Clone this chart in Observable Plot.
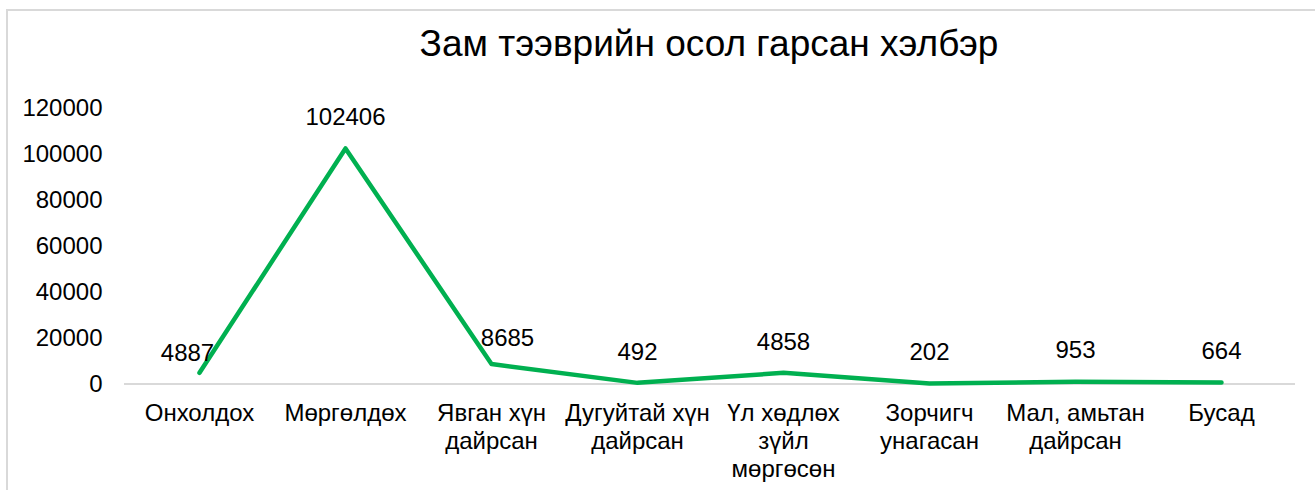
<!DOCTYPE html>
<html>
<head>
<meta charset="utf-8">
<script src="https://cdn.jsdelivr.net/npm/d3@7"></script>
<script src="https://cdn.jsdelivr.net/npm/@observablehq/plot@0.6"></script>
<style>
  html, body { margin: 0; padding: 0; background: #fff; }
  #wrap { position: relative; width: 1315px; height: 490px; overflow: hidden; font-family: "Liberation Sans", Arial, sans-serif; }
  #bt { position: absolute; left: 6px; top: 9px; width: 1309px; height: 1.5px; background: #d9d9d9; }
  #bl { position: absolute; left: 6px; top: 9px; width: 2px; height: 481px; background: #d9d9d9; }
  #title { position: absolute; left: 0; top: 0; width: 1418px; text-align: center; font-size: 37px; line-height: 37px; padding-top: 25px; color: #000; }
  #chart { position: absolute; left: 0; top: 80px; }
</style>
</head>
<body>
<div id="wrap">
  <div id="bt"></div>
  <div id="bl"></div>
  <div id="title">Зам тээврийн осол гарсан хэлбэр</div>
  <div id="chart"></div>
</div>
<script>
const categories = ["Онхолдох", "Мөргөлдөх", "Явган хүн\nдайрсан", "Дугуйтай хүн\nдайрсан", "Үл хөдлөх\nзүйл\nмөргөсөн", "Зорчигч\nунагасан", "Мал, амьтан\nдайрсан", "Бусад"];
const values = [4887, 102406, 8685, 492, 4858, 202, 953, 664];
const yTicks = [0, 20000, 40000, 60000, 80000, 100000, 120000];

const data = categories.map((c, i) => ({category: c, value: values[i]}));
const special = {0: {dx: -12, dy: -19}, 2: {dx: 16, dy: -26}};

const marks = [
  Plot.ruleY([0], {stroke: "#d9d9d9", strokeWidth: 2}),
  Plot.lineY(data, {x: "category", y: "value", stroke: "#00B050", strokeWidth: 4.5, strokeLinecap: "round", strokeLinejoin: "round"}),
  Plot.text(data.filter((d, i) => !(i in special)), {x: "category", y: "value", text: d => String(d.value), dy: -31, fontSize: 24, fill: "#000"}),
  ...Object.entries(special).map(([i, o]) =>
    Plot.text([data[+i]], {x: "category", y: "value", text: d => String(d.value), dx: o.dx, dy: o.dy, fontSize: 24, fill: "#000"})
  ),
  Plot.axisY({ticks: yTicks, tickSize: 0, tickPadding: 22, tickFormat: d => String(d), fontSize: 24, fill: "#000", label: null}),
  Plot.axisX({tickSize: 0, tickPadding: 17, fontSize: 24, fill: "#000", lineHeight: 1.167, label: null})
];

const chart = Plot.plot({
  width: 1315,
  height: 410,
  marginLeft: 124,
  marginRight: 20,
  marginTop: 27.5,
  marginBottom: 106.5,
  style: {fontFamily: "Liberation Sans, Arial, sans-serif", fontSize: "24px", color: "#000", background: "transparent"},
  x: {type: "point", domain: categories, padding: 0.5, label: null},
  y: {domain: [0, 120000], label: null},
  marks
});
document.getElementById("chart").appendChild(chart);
</script>
</body>
</html>
